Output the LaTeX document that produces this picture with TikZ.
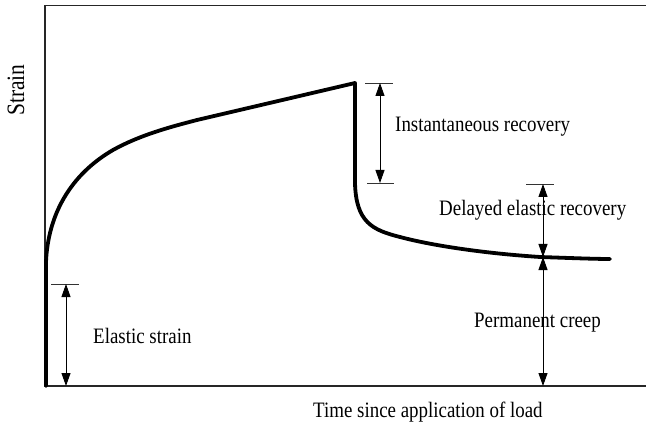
\documentclass[tikz,border=0pt]{standalone}
\usepackage{fontspec}
\setmainfont[FakeStretch=0.86]{Liberation Serif}
\usetikzlibrary{arrows.meta}
\begin{document}
\begin{tikzpicture}[x=1pt,y=-1pt,
  axis/.style={line width=1.3pt,draw=black!85},
  curve/.style={line width=3.8pt,line join=round,line cap=round},
  dim/.style={line width=0.9pt,{Triangle[length=13pt,width=9pt]}-{Triangle[length=13pt,width=9pt]}},
  tick/.style={line width=0.9pt,draw=black!80},
  lbl/.style={font=\fontsize{22}{25}\selectfont,inner sep=0pt}]
\useasboundingbox (0,0) rectangle (646,425);
% axes
\coordinate (tr) at (646,5.5);
\coordinate (tl) at (45,5.5);
\coordinate (bl) at (45,386);
\coordinate (br) at (646,386);
\draw[axis] (tr) -- (tl) -- (bl) -- (br);
% curve
\draw[curve] (46,386) -- (46,262) .. controls (48,215) and (70,175) .. (113,150)
  .. controls (140,135) and (170,127) .. (197,120) -- (355,83) -- (355,183)
  .. controls (356,222) and (372,230) .. (400,237)
  .. controls (430,245) and (480,253) .. (540,257)
  .. controls (570,258) and (595,259) .. (610,259);
% elastic strain
\coordinate (e1) at (51,284); \coordinate (e2) at (79,284);
\coordinate (ea) at (66,284); \coordinate (eb) at (66,386);
\draw[tick] (e1) -- (e2);
\draw[dim] (ea) -- (eb);
\node[lbl,anchor=base west] (el) at (93,343) {Elastic strain};
% instantaneous
\coordinate (i1) at (365,83); \coordinate (i2) at (393,83);
\coordinate (i3) at (367,183); \coordinate (i4) at (394,183);
\coordinate (ia) at (380,83); \coordinate (ib) at (380,183);
\draw[tick] (i1) -- (i2);
\draw[tick] (i3) -- (i4);
\node[lbl,anchor=base west] (il) at (395,132) {Instantaneous recovery};
\draw[dim] (ia) -- (ib);
% delayed & permanent
\coordinate (d1) at (526,184); \coordinate (d2) at (554,184);
\coordinate (da) at (543,184); \coordinate (db) at (543,257); \coordinate (dc) at (543,386);
\draw[tick] (d1) -- (d2);
\node[lbl,anchor=base west] (dl) at (439,215) {Delayed elastic recovery};
\node[lbl,anchor=base west] (pl) at (474,327) {Permanent creep};
\draw[dim] (da) -- (db);
\draw[dim] (db) -- (dc);
% axis labels
\node[lbl,anchor=base west] (tl2) at (313,417) {Time since application of load};
\node[lbl,font=\fontsize{25}{28}\selectfont,rotate=90,anchor=base] (sl) at (24,90) {Strain};
\end{tikzpicture}
\end{document}
